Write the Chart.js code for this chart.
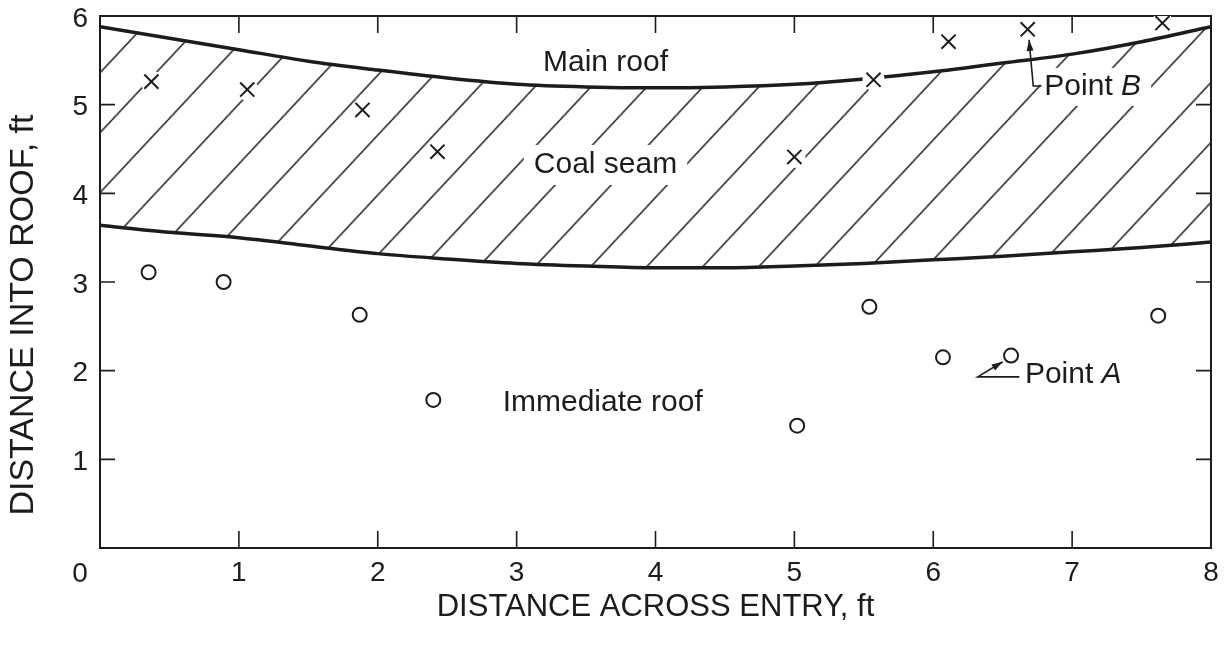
<!DOCTYPE html>
<html>
<head>
<meta charset="utf-8">
<script src="https://cdn.jsdelivr.net/npm/chart.js@4/dist/chart.umd.min.js"></script>
<style>
html,body{margin:0;padding:0;background:#fff;}
#wrap{width:1225px;height:648px;}
</style>
</head>
<body>
<div id="wrap"><canvas id="c" width="1225" height="648"></canvas></div>
<script>
// ---- data ----
const xTicks = [0, 1, 2, 3, 4, 5, 6, 7, 8];
const yTicks = [0, 1, 2, 3, 4, 5, 6];

const boundaryX   = [0, 0.5, 1, 1.5, 2, 2.5, 3, 3.5, 4, 4.5, 5, 5.5, 6, 6.5, 7, 7.5, 8];
const mainRoofY   = [5.88, 5.75, 5.62, 5.49, 5.39, 5.30, 5.23, 5.20, 5.19, 5.20, 5.23, 5.29, 5.37, 5.47, 5.57, 5.71, 5.88];
const coalFloorY  = [3.64, 3.56, 3.50, 3.41, 3.32, 3.26, 3.21, 3.18, 3.16, 3.16, 3.18, 3.21, 3.25, 3.29, 3.34, 3.39, 3.45];

const crossX  = [0.37, 1.06, 1.89, 2.43, 5.00, 5.57, 6.11, 6.68, 7.65];
const crossY  = [5.26, 5.17, 4.94, 4.47, 4.41, 5.28, 5.71, 5.85, 5.92];

const circleX = [0.35, 0.89, 1.87, 2.40, 5.02, 5.54, 6.07, 6.56, 7.62];
const circleY = [3.11, 3.00, 2.63, 1.67, 1.38, 2.72, 2.15, 2.17, 2.62];

const zoneText = ['Main roof', 'Coal seam', 'Immediate roof'];
const zoneX    = [3.64, 3.64, 3.62];
const zoneY    = [5.47, 4.32, 1.64];
const zoneBox  = [false, true, false];

// "Point" callouts: leader path in data units, then label start
const pointName   = ['B', 'A'];
const leaderX     = [[6.69, 6.72, 6.78], [6.50, 6.32, 6.62]];
const leaderY     = [[5.73, 5.21, 5.21], [2.10, 1.93, 1.93]];
const pointLabelX = [6.80, 6.66];
const pointLabelY = [5.20, 1.95];

// ---- styling helpers ----
const FONT = '"Liberation Sans", Arial, Helvetica, sans-serif';
const INK = '#1c1c1c';

function hatchPattern() {
  const s = 56;
  const c = document.createElement('canvas');
  c.width = s; c.height = s;
  const g = c.getContext('2d');
  g.strokeStyle = '#222';
  g.lineWidth = 1.5;
  g.beginPath();
  g.moveTo(-2, s + 2); g.lineTo(s + 2, -2);
  g.moveTo(-3, 3); g.lineTo(3, -3);
  g.moveTo(s - 3, s + 3); g.lineTo(s + 3, s - 3);
  g.stroke();
  const p = document.createElement('canvas').getContext('2d').createPattern(c, 'repeat');
  p.setTransform(new DOMMatrix([1, 0, 0, 1.07, 0, 0]));
  return p;
}

const pts = (xs, ys) => xs.map((x, i) => ({ x: x, y: ys[i] }));

function noPad(s) {
  s.paddingTop = 0; s.paddingBottom = 0; s.paddingLeft = 0; s.paddingRight = 0;
}

// inward ticks on all four sides + origin label
const frameTicks = {
  id: 'frameTicks',
  afterDraw(chart) {
    const { ctx, chartArea: a, scales: { x, y } } = chart;
    ctx.save();
    ctx.strokeStyle = INK;
    ctx.lineWidth = 1.6;
    ctx.beginPath();
    xTicks.forEach(v => {
      if (v <= x.min || v >= x.max) return;
      const px = x.getPixelForValue(v);
      ctx.moveTo(px, a.bottom); ctx.lineTo(px, a.bottom - 17);
      ctx.moveTo(px, a.top); ctx.lineTo(px, a.top + 17);
    });
    yTicks.forEach(v => {
      if (v <= y.min || v >= y.max) return;
      const py = y.getPixelForValue(v);
      ctx.moveTo(a.left, py); ctx.lineTo(a.left + 15, py);
      ctx.moveTo(a.right, py); ctx.lineTo(a.right - 15, py);
    });
    ctx.stroke();
    ctx.fillStyle = INK;
    ctx.font = '28px ' + FONT;
    ctx.textAlign = 'center';
    ctx.textBaseline = 'middle';
    ctx.fillText(String(xTicks[0]), x.getPixelForValue(xTicks[0]) - 20, a.bottom + 26);
    ctx.restore();
  }
};

// zone labels and point callouts
const notes = {
  id: 'notes',
  afterDatasetsDraw(chart) {
    const { ctx, scales: { x, y } } = chart;
    ctx.save();
    ctx.font = '30px ' + FONT;
    ctx.textBaseline = 'middle';
    ctx.textAlign = 'center';
    zoneText.forEach((t, i) => {
      const px = x.getPixelForValue(zoneX[i]);
      const py = y.getPixelForValue(zoneY[i]);
      if (zoneBox[i]) {
        const w = ctx.measureText(t).width;
        ctx.fillStyle = '#fff';
        ctx.fillRect(px - w / 2 - 10, py - 20, w + 20, 40);
      }
      ctx.fillStyle = INK;
      ctx.fillText(t, px, py);
    });
    ctx.textAlign = 'left';
    pointName.forEach((n, i) => {
      const lx = x.getPixelForValue(pointLabelX[i]);
      const ly = y.getPixelForValue(pointLabelY[i]);
      ctx.font = '30px ' + FONT;
      const w1 = ctx.measureText('Point ').width;
      ctx.font = 'italic 30px ' + FONT;
      const w2 = ctx.measureText(n).width;
      ctx.fillStyle = '#fff';
      ctx.fillRect(lx - 4, ly - 19, w1 + w2 + 14, 38);
      ctx.fillStyle = INK;
      ctx.font = '30px ' + FONT;
      ctx.fillText('Point', lx, ly);
      ctx.font = 'italic 30px ' + FONT;
      ctx.fillText(n, lx + w1, ly);
      // leader
      const xs = leaderX[i].map(v => x.getPixelForValue(v));
      const ys = leaderY[i].map(v => y.getPixelForValue(v));
      ctx.strokeStyle = INK;
      ctx.lineWidth = 1.6;
      ctx.beginPath();
      ctx.moveTo(xs[0], ys[0]);
      for (let k = 1; k < xs.length; k++) ctx.lineTo(xs[k], ys[k]);
      ctx.stroke();
      // arrowhead at tip
      const ang = Math.atan2(ys[0] - ys[1], xs[0] - xs[1]);
      ctx.fillStyle = INK;
      ctx.beginPath();
      ctx.moveTo(xs[0], ys[0]);
      ctx.lineTo(xs[0] - 11 * Math.cos(ang) + 3.5 * Math.sin(ang), ys[0] - 11 * Math.sin(ang) - 3.5 * Math.cos(ang));
      ctx.lineTo(xs[0] - 11 * Math.cos(ang) - 3.5 * Math.sin(ang), ys[0] - 11 * Math.sin(ang) + 3.5 * Math.cos(ang));
      ctx.closePath();
      ctx.fill();
    });
    ctx.restore();
  }
};

const tickFont = { family: FONT, size: 28 };

new Chart(document.getElementById('c'), {
  type: 'scatter',
  data: {
    datasets: [
      {
        type: 'line', label: 'Main roof contact',
        data: pts(boundaryX, mainRoofY),
        borderColor: INK, borderWidth: 3.5, pointRadius: 0,
        cubicInterpolationMode: 'monotone',
        fill: '+1', backgroundColor: hatchPattern(),
        order: 5
      },
      {
        type: 'line', label: 'Coal seam floor',
        data: pts(boundaryX, coalFloorY),
        borderColor: INK, borderWidth: 3.5, pointRadius: 0,
        cubicInterpolationMode: 'monotone',
        fill: false,
        order: 5
      },
      {
        label: 'halo',
        data: pts(crossX, crossY),
        pointRadius: 11, pointBackgroundColor: '#fff', pointBorderWidth: 0, pointBorderColor: '#fff',
        order: 3
      },
      {
        label: 'Upper horizon (x)',
        data: pts(crossX, crossY),
        pointStyle: 'crossRot', pointRadius: 10,
        pointBorderColor: INK, pointBorderWidth: 2,
        order: 1
      },
      {
        label: 'Lower horizon (o)',
        data: pts(circleX, circleY),
        pointStyle: 'circle', pointRadius: 7,
        pointBorderColor: INK, pointBorderWidth: 2, pointBackgroundColor: 'rgba(255,255,255,0)',
        order: 1
      }
    ]
  },
  options: {
    responsive: false,
    devicePixelRatio: 1,
    animation: false,
    layout: { padding: { top: 16, right: 14, left: 0, bottom: 0 } },
    plugins: { legend: { display: false }, tooltip: { enabled: false } },
    scales: {
      x: {
        type: 'linear', position: 'bottom',
        min: xTicks[0], max: xTicks[xTicks.length - 1],
        afterFit: s => { s.height = 100; noPad(s); },
        grid: { display: false, drawTicks: false, tickLength: 0 },
        border: { display: true, color: INK, width: 2 },
        ticks: {
          stepSize: 1, color: INK, font: tickFont, padding: 8, maxRotation: 0,
          callback: v => (v === xTicks[0] ? '' : String(v))
        },
        title: {
          display: true, text: 'DISTANCE ACROSS ENTRY, ft', color: INK,
          font: { family: FONT, size: 31 }, padding: { top: 0, bottom: 22 }
        }
      },
      y: {
        type: 'linear', position: 'left',
        min: yTicks[0], max: yTicks[yTicks.length - 1],
        afterFit: s => { s.width = 100; noPad(s); },
        grid: { display: false, drawTicks: false, tickLength: 0 },
        border: { display: true, color: INK, width: 2 },
        ticks: {
          stepSize: 1, color: INK, font: tickFont, padding: 12, labelOffset: 3,
          callback: v => (v === yTicks[0] ? '' : String(v))
        },
        title: {
          display: true, text: 'DISTANCE INTO ROOF, ft       ', color: INK,
          font: { family: FONT, size: 34 }, padding: { top: 3, bottom: 0 }
        }
      },
      x2: {
        type: 'linear', position: 'top', min: 0, max: 8,
        afterFit: s => { s.height = 0; noPad(s); },
        grid: { display: false, drawTicks: false },
        border: { display: true, color: INK, width: 2 },
        ticks: { display: false }
      },
      y2: {
        type: 'linear', position: 'right', min: 0, max: 6,
        afterFit: s => { s.width = 0; noPad(s); },
        grid: { display: false, drawTicks: false },
        border: { display: true, color: INK, width: 2 },
        ticks: { display: false }
      }
    }
  },
  plugins: [frameTicks, notes]
});
</script>
</body>
</html>
